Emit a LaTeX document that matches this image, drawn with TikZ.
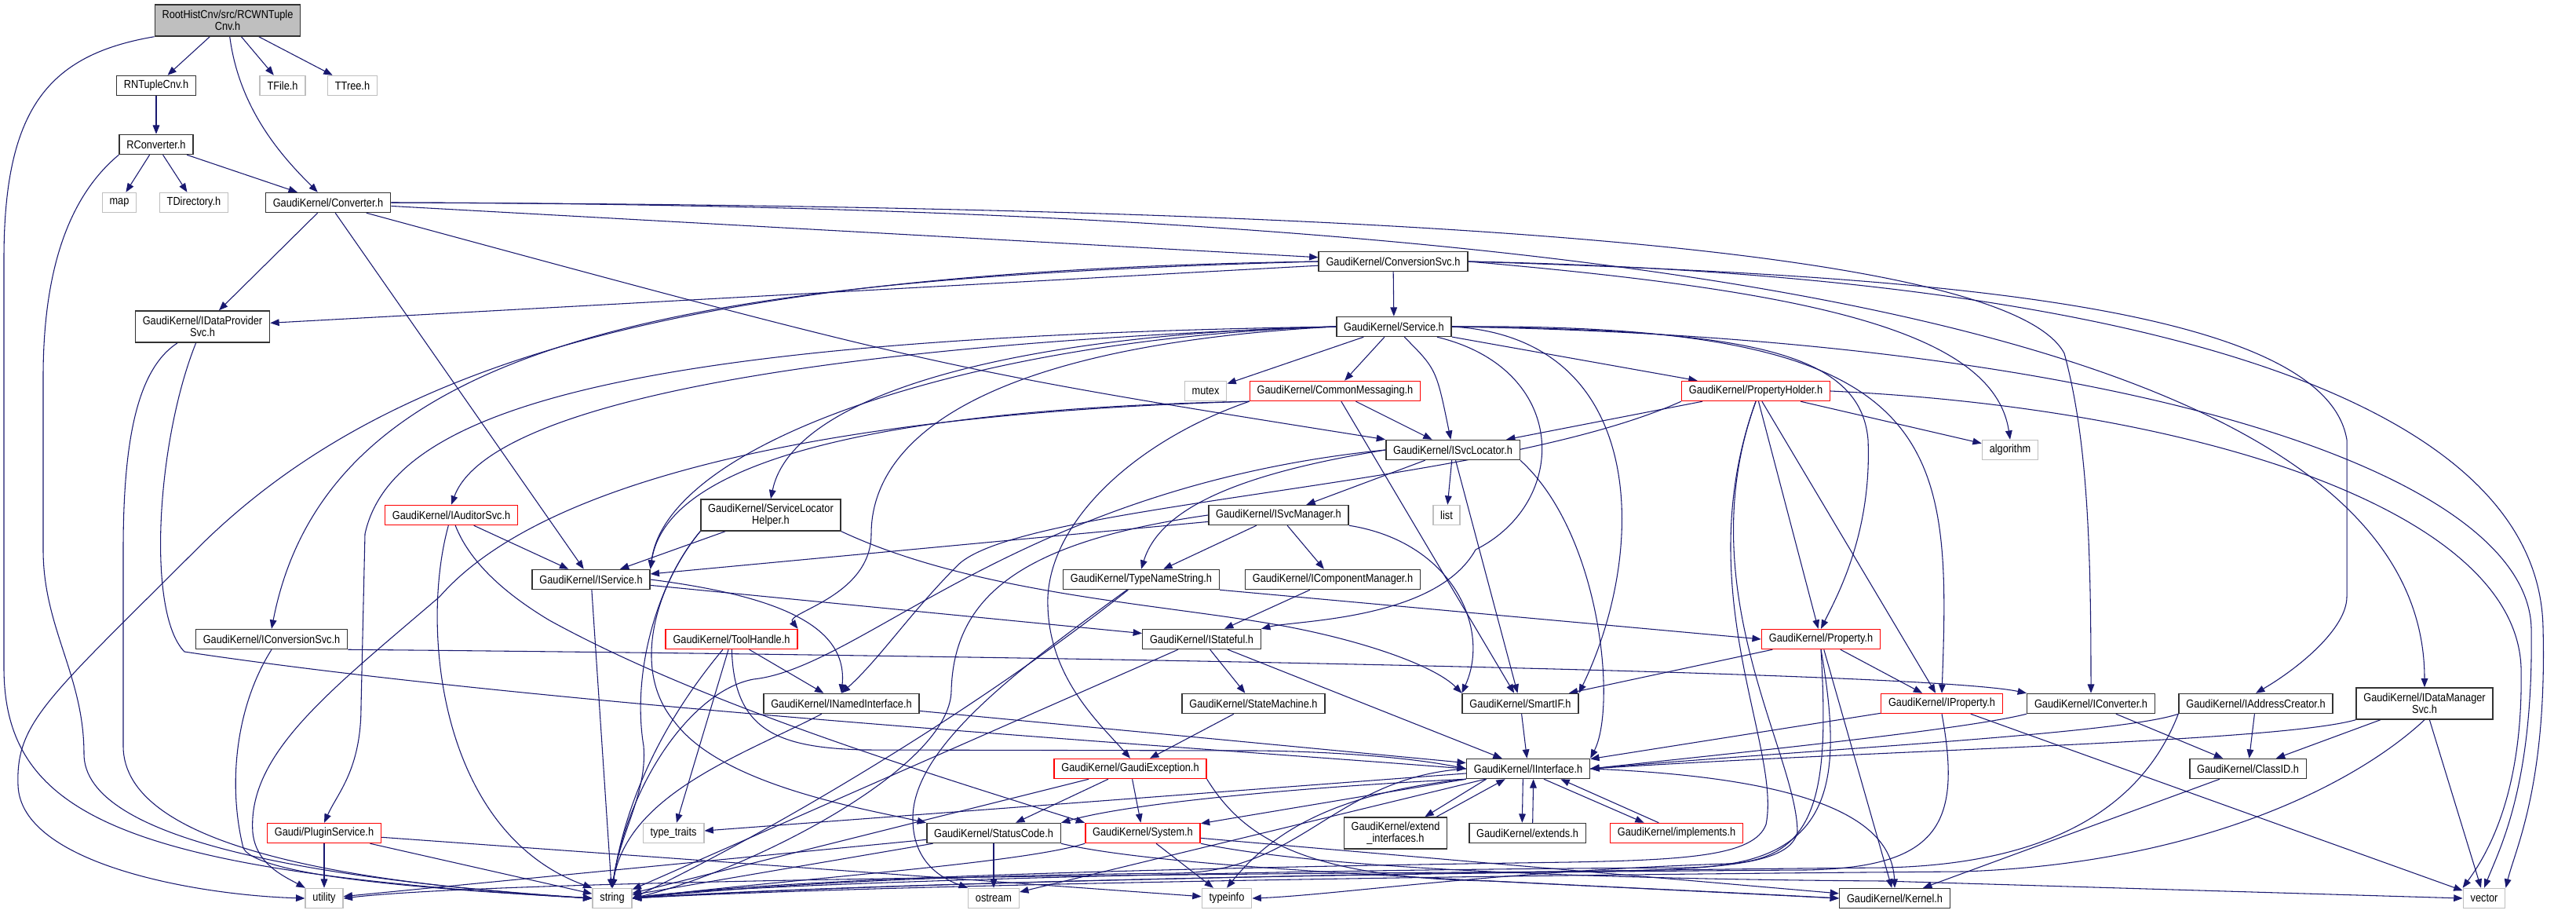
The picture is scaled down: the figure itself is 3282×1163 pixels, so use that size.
\documentclass[tikz,border=0pt]{standalone}
\usepackage{fontspec}
\setmainfont{Liberation Sans}
\newfontfamily\hdrfont{Liberation Sans}[FakeStretch=0.87]
\usetikzlibrary{arrows.meta,backgrounds}

\definecolor{edgeblue}{HTML}{191970}
\definecolor{sysgray}{HTML}{BFBFBF}
\definecolor{hdrred}{HTML}{FF0000}

\tikzset{every picture/.style={line width=0.75pt}}
\tikzset{
  hdr/.style={draw=black!80, line width=1.1pt, fill=white, font=\hdrfont\fontsize{11}{11}\selectfont,
    minimum height=18.75pt, inner xsep=7pt, inner ysep=1pt, align=center},
  syshdr/.style={hdr, draw=sysgray},
  redhdr/.style={hdr, draw=hdrred},
  twoline/.style={minimum height=30pt},
  roothdr/.style={hdr, twoline, fill=sysgray},
  incl/.style={draw=edgeblue, line width=0.8pt, -{Triangle[length=8.5pt,width=6.5pt]}},
}

\begin{document}
\begin{tikzpicture}[x=0.75pt,y=0.75pt,yscale=-1,xscale=1]
\useasboundingbox (0,0) rectangle (3282,1163);

% Header nodes, top to bottom
\node[roothdr] (root) at (290,26) {RootHistCnv/src/RCWNTuple\\Cnv.h};
\node[hdr] (rntuple) at (199,109) {RNTupleCnv.h};
\node[syshdr] (tfile) at (360,109) {TFile.h};
\node[syshdr] (ttree) at (449,109) {TTree.h};
\node[hdr] (rconv) at (199,184) {RConverter.h};
\node[syshdr] (map) at (152,258) {map};
\node[syshdr] (tdir) at (247,258) {TDirectory.h};
\node[hdr] (conv) at (418,258) {GaudiKernel/Converter.h};
\node[hdr] (convsvc) at (1775,333) {GaudiKernel/ConversionSvc.h};
\node[hdr,twoline] (dps) at (258,416) {GaudiKernel/IDataProvider\\Svc.h};
\node[hdr] (service) at (1776,416) {GaudiKernel/Service.h};
\node[syshdr] (mutex) at (1536,498) {mutex};
\node[redhdr] (commsg) at (1701,498) {GaudiKernel/CommonMessaging.h};
\node[redhdr] (propholder) at (2237,498) {GaudiKernel/PropertyHolder.h};
\node[hdr] (isvcloc) at (1851,573) {GaudiKernel/ISvcLocator.h};
\node[syshdr] (algorithm) at (2561,573) {algorithm};
\node[redhdr] (auditor) at (575,656) {GaudiKernel/IAuditorSvc.h};
\node[hdr,twoline] (slhelper) at (982,656) {GaudiKernel/ServiceLocator\\Helper.h};
\node[hdr] (isvcmgr) at (1629,656) {GaudiKernel/ISvcManager.h};
\node[syshdr] (list) at (1843,656) {list};
\node[hdr] (iservice) at (753,738) {GaudiKernel/IService.h};
\node[hdr] (typename) at (1454,738) {GaudiKernel/TypeNameString.h};
\node[hdr] (compmgr) at (1698,738) {GaudiKernel/IComponentManager.h};
\node[hdr] (iconvsvc) at (346,814) {GaudiKernel/IConversionSvc.h};
\node[redhdr] (toolhandle) at (932,814) {GaudiKernel/ToolHandle.h};
\node[hdr] (istateful) at (1531,814) {GaudiKernel/IStateful.h};
\node[redhdr] (property) at (2320,814) {GaudiKernel/Property.h};
\node[hdr] (inamed) at (1072,896) {GaudiKernel/INamedInterface.h};
\node[hdr] (statemach) at (1597,896) {GaudiKernel/StateMachine.h};
\node[hdr] (smartif) at (1937,896) {GaudiKernel/SmartIF.h};
\node[redhdr] (iproperty) at (2474,896) {GaudiKernel/IProperty.h};
\node[hdr] (iconverter) at (2664,896) {GaudiKernel/IConverter.h};
\node[hdr] (iaddr) at (2874,896) {GaudiKernel/IAddressCreator.h};
\node[hdr,twoline] (idms) at (3089,896) {GaudiKernel/IDataManager\\Svc.h};
\node[redhdr] (gexc) at (1440,979) {GaudiKernel/GaudiException.h};
\node[hdr] (iinterface) at (1947,979) {GaudiKernel/IInterface.h};
\node[hdr] (classid) at (2864,979) {GaudiKernel/ClassID.h};
\node[redhdr] (plugin) at (413,1061) {Gaudi/PluginService.h};
\node[syshdr] (typetraits) at (858,1061) {type\_traits};
\node[hdr] (statuscode) at (1266,1061) {GaudiKernel/StatusCode.h};
\node[redhdr] (system) at (1456,1061) {GaudiKernel/System.h};
\node[hdr,twoline] (extendif) at (1778,1061) {GaudiKernel/extend\\\_interfaces.h};
\node[hdr] (extends) at (1946,1061) {GaudiKernel/extends.h};
\node[redhdr] (implements) at (2136,1061) {GaudiKernel/implements.h};
\node[syshdr] (utility) at (413,1144) {utility};
\node[syshdr] (string) at (780,1144) {string};
\node[syshdr] (ostream) at (1266,1144) {ostream};
\node[syshdr] (typeinfo) at (1563,1144) {typeinfo};
\node[hdr] (kernel) at (2414,1144) {GaudiKernel/Kernel.h};
\node[syshdr] (vector) at (3165,1144) {vector};

\begin{pgfonlayer}{background}
\fill[white] (0,0) rectangle (3282,1163);

%Edges: RCWNTupleCnv.h
\draw[incl] (root) -- (rntuple);
\draw[incl] (root) -- (tfile);
\draw[incl] (root) -- (ttree);
\draw[incl] (root) .. controls (305,140) and (360,200) .. (conv);
\draw[incl] (root.south west) .. controls (60,70) and (5,140) .. (5,330) -- (5,850) .. controls (5,1040) and (160,1110) .. (string.west);

%Edges: RNTupleCnv.h, RConverter.h
\draw[incl] (rntuple) -- (rconv);
\draw[incl] (rconv) -- (map);
\draw[incl] (rconv) -- (tdir);
\draw[incl] (rconv) -- (conv);
\draw[incl] (rconv.south west) .. controls (100,240) and (55,320) .. (55,480) -- (55,700) .. controls (55,800) and (107,860) .. (107,960) .. controls (107,1070) and (400,1120) .. (string.west);

%Edges: Converter.h
\draw[incl] (conv) -- (dps);
\draw[incl] (conv) -- (iservice);
\draw[incl] (conv) .. controls (1200,470) .. (isvcloc.north west);
\draw[incl] (conv) -- (convsvc);
\draw[incl] (conv.east) .. controls (1600,262) and (2550,300) .. (2630,450) .. controls (2660,560) and (2664,700) .. (iconverter.north);
\draw[incl] (conv.east) .. controls (2000,262) and (3089,400) .. (idms.north);

%Edges: ConversionSvc.h
\draw[incl] (convsvc) -- (service);
\draw[incl] (convsvc) -- (dps);
\draw[incl] (convsvc.west) .. controls (900,355) and (420,420) .. (iconvsvc.north);
\draw[incl] (convsvc.west) .. controls (900,345) and (500,450) .. (250,700) .. controls (60,890) and (20,920) .. (23,1000) .. controls (26,1100) and (250,1140) .. (utility.west);
\draw[incl] (convsvc.east) .. controls (2300,370) and (2540,420) .. (algorithm.north);
\draw[incl] (convsvc.east) .. controls (2400,350) and (2960,380) .. (2990,560) -- (2990,760) .. controls (2990,800) and (2930,850) .. (iaddr.north);
\draw[incl] (convsvc.east) .. controls (2700,350) and (3235,500) .. (3240,800) .. controls (3245,1000) and (3205,1080) .. (vector.north east);

%Edges: Service.h
\draw[incl] (service) -- (mutex);
\draw[incl] (service) -- (commsg);
\draw[incl] (service) .. controls (1830,470) .. (isvcloc);
\draw[incl] (service) -- (propholder);
\draw[incl] (service.west) .. controls (1300,425) and (1010,500) .. (slhelper.north);
\draw[incl] (service.west) .. controls (1250,430) and (850,560) .. (iservice.north east);
\draw[incl] (service.west) .. controls (1000,440) and (620,520) .. (auditor.north);
\draw[incl] (service.west) .. controls (800,430) and (500,520) .. (465,680) -- (460,900) .. controls (460,980) and (430,1010) .. (plugin.north);
\draw[incl] (service.west) .. controls (1250,440) and (1110,560) .. (1110,680) .. controls (1110,760) and (1000,780) .. (toolhandle.north east);
\draw[incl] (service) .. controls (2000,470) and (2000,640) .. (1880,700) .. controls (1830,790) and (1650,790) .. (istateful.north east);
\draw[incl] (service.east) .. controls (2100,430) and (2100,700) .. (smartif.north east);
\draw[incl] (service.east) .. controls (2200,420) and (2370,440) .. (2380,560) .. controls (2385,680) and (2340,760) .. (property.north);
\draw[incl] (service.east) .. controls (2480,410) and (2486,560) .. (iproperty.north);
\draw[incl] (service.east) .. controls (2700,430) and (3220,600) .. (3225,800) .. controls (3228,1000) and (3185,1080) .. (vector.north);

%Edges: CommonMessaging.h
\draw[incl] (commsg) -- (isvcloc);
\draw[incl] (commsg) -- (smartif);
\draw[incl] (commsg.south west) .. controls (1450,560) and (1340,660) .. (1335,760) .. controls (1332,860) and (1400,920) .. (gexc.north);
\draw[incl] (commsg.south west) .. controls (1150,520) and (850,580) .. (iservice.north east);
\draw[incl] (commsg.south west) .. controls (1100,525) and (700,600) .. (560,760) .. controls (420,880) and (315,960) .. (322,1060) .. controls (326,1100) and (360,1115) .. (utility);

%Edges: PropertyHolder.h
\draw[incl] (propholder) -- (isvcloc);
\draw[incl] (propholder) -- (algorithm);
\draw[incl] (propholder) -- (property);
\draw[incl] (propholder) -- (iproperty);
\draw[incl] (propholder.south west) .. controls (1900,620) and (1300,640) .. (1220,720) .. controls (1160,780) and (1120,840) .. (inamed.north);
\draw[incl] (propholder.east) .. controls (2800,520) and (3205,650) .. (3212,850) .. controls (3215,1000) and (3175,1080) .. (vector.north west);
\draw[incl] (propholder.south) .. controls (2150,750) and (2270,950) .. (2250,1050) .. controls (2235,1090) and (2150,1095) .. (2000,1098) .. controls (1500,1105) and (1000,1118) .. (string.east);
\draw[incl] (propholder.south) .. controls (2150,750) and (2290,960) .. (2290,1060) .. controls (2280,1100) and (2200,1108) .. (2000,1110) .. controls (1200,1115) and (600,1125) .. (utility.east);

%Edges: ISvcLocator.h
\draw[incl] (isvcloc) -- (isvcmgr);
\draw[incl] (isvcloc) -- (list);
\draw[incl] (isvcloc) -- (smartif);
\draw[incl] (isvcloc.south east) .. controls (2040,680) and (2060,900) .. (iinterface.north east);
\draw[incl] (isvcloc.west) .. controls (1600,600) and (1480,640) .. (typename.north);
\draw[incl] (isvcloc.west) .. controls (1300,620) and (1100,850) .. (960,865) .. controls (880,880) and (800,1000) .. (string.north);

%Edges: ISvcManager.h, IComponentManager.h
\draw[incl] (isvcmgr) -- (iservice);
\draw[incl] (isvcmgr) -- (typename);
\draw[incl] (isvcmgr) -- (compmgr);
\draw[incl] (isvcmgr.south east) .. controls (1850,690) and (1900,800) .. (smartif.north west);
\draw[incl] (isvcmgr.west) .. controls (1300,690) and (1215,760) .. (1212,880) .. controls (1210,980) and (950,1110) .. (string.east);
\draw[incl] (compmgr) -- (istateful);

%Edges: IAuditorSvc.h, IService.h
\draw[incl] (auditor) -- (iservice);
\draw[incl] (auditor) .. controls (535,800) and (560,1060) .. (string.north west);
\draw[incl] (auditor) .. controls (600,720) and (650,760) .. (700,790) .. controls (900,900) and (1200,990) .. (system.north west);
\draw[incl] (iservice) -- (istateful);
\draw[incl] (iservice.east) .. controls (1000,760) and (1080,800) .. (inamed.north);
\draw[incl] (iservice) -- (string);

%Edges: ServiceLocatorHelper.h
\draw[incl] (slhelper) -- (iservice);
\draw[incl] (slhelper.south east) .. controls (1250,760) and (1500,770) .. (1650,800) .. controls (1750,820) and (1830,850) .. (smartif.north west);
\draw[incl] (slhelper.south west) .. controls (840,740) and (800,850) .. (860,920) .. controls (920,1000) and (1100,1030) .. (statuscode.north west);
\draw[incl] (slhelper.south west) .. controls (835,745) and (805,860) .. (820,950) .. controls (825,1010) and (790,1060) .. (string.north);

%Edges: ToolHandle.h
\draw[incl] (toolhandle) -- (inamed);
\draw[incl] (toolhandle) -- (typetraits);
\draw[incl] (toolhandle) .. controls (860,900) and (800,1000) .. (string.north);
\draw[incl] (toolhandle) .. controls (935,930) and (990,952) .. (1100,955) -- (1600,956) .. controls (1700,957) and (1800,965) .. (iinterface.west);

%Edges: TypeNameString.h, IStateful.h, StateMachine.h, INamedInterface.h
\draw[incl] (typename.south east) -- (property.west);
\draw[incl] (typename) .. controls (1250,900) and (1000,1050) .. (string.east);
\draw[incl] (typename) .. controls (1300,850) and (1165,950) .. (1163,1040) .. controls (1162,1090) and (1190,1115) .. (ostream.north west);
\draw[incl] (istateful) -- (iinterface);
\draw[incl] (istateful) -- (statemach);
\draw[incl] (istateful) -- (string);
\draw[incl] (statemach) -- (gexc);
\draw[incl] (inamed) -- (iinterface);
\draw[incl] (inamed) .. controls (950,960) and (800,1010) .. (string.north);

%Edges: Property.h, IProperty.h, SmartIF.h
\draw[incl] (property) -- (smartif);
\draw[incl] (property) -- (iproperty);
\draw[incl] (property) -- (kernel);
\draw[incl] (property.south) .. controls (2350,1000) and (2335,1100) .. (2150,1105) .. controls (1500,1108) and (900,1128) .. (string.east);
\draw[incl] (property.south) .. controls (2330,1000) and (2320,1095) .. (2200,1100) .. controls (1900,1110) and (1700,1140) .. (typeinfo.east);
\draw[incl] (iproperty) -- (iinterface);
\draw[incl] (iproperty) -- (vector);
\draw[incl] (iproperty.south) .. controls (2500,1050) and (2470,1105) .. (2300,1108) .. controls (1600,1112) and (1000,1130) .. (string.east);
\draw[incl] (smartif) -- (iinterface);

%Edges: IConverter.h, IAddressCreator.h, IDataManagerSvc.h, ClassID.h
\draw[incl] (iconverter.south west) .. controls (2500,930) and (2200,960) .. (iinterface.east);
\draw[incl] (iconverter) -- (classid);
\draw[incl] (iaddr.south west) .. controls (2700,935) and (2300,955) .. (iinterface.east);
\draw[incl] (iaddr) -- (classid);
\draw[incl] (iaddr.south west) .. controls (2740,1000) and (2650,1100) .. (2400,1105) .. controls (1800,1110) and (1100,1125) .. (string.east);
\draw[incl] (idms.south west) .. controls (2900,945) and (2400,955) .. (iinterface.east);
\draw[incl] (idms) -- (classid);
\draw[incl] (idms) -- (vector);
\draw[incl] (idms.south) .. controls (3000,1000) and (2800,1100) .. (2500,1110) .. controls (1800,1115) and (1100,1128) .. (string.east);
\draw[incl] (classid) -- (kernel);

%Edges: IConversionSvc.h, IDataProviderSvc.h
\draw[incl] (iconvsvc.south east) .. controls (1300,835) and (2450,855) .. (iconverter.north west);
\draw[incl] (iconvsvc.south) .. controls (300,900) and (290,1000) .. (310,1080) .. controls (330,1120) and (600,1135) .. (string.west);
\draw[incl] (dps) .. controls (175,470) and (157,560) .. (157,700) -- (157,950) .. controls (157,1080) and (450,1125) .. (string.west);
\draw[incl] (dps) .. controls (200,560) and (186,780) .. (235,830) .. controls (700,900) and (1500,950) .. (iinterface.west);

%Edges: GaudiException.h
\draw[incl] (gexc) -- (statuscode);
\draw[incl] (gexc) -- (system);
\draw[incl] (gexc) -- (string);
\draw[incl] (gexc.south east) .. controls (1580,1060) and (1650,1118) .. (1900,1122) -- (kernel.west);

%Edges: IInterface.h and its mixins
\draw[incl] ([xshift=-40pt]iinterface.south) -- ([xshift=28pt]extendif.north);
\draw[incl] ([xshift=39pt]extendif.north) -- ([xshift=-22pt]iinterface.south);
\draw[incl] ([xshift=-5pt]iinterface.south) -- ([xshift=-5pt]extends.north);
\draw[incl] ([xshift=5pt]extends.north) -- ([xshift=5pt]iinterface.south);
\draw[incl] ([xshift=15pt]iinterface.south) -- ([xshift=-31pt]implements.north);
\draw[incl] ([xshift=-17pt]implements.north) -- ([xshift=31pt]iinterface.south);
\draw[incl] (iinterface.east) .. controls (2300,990) and (2410,1040) .. (kernel.north);
\draw[incl] (iinterface.south west) .. controls (1700,1000) and (1450,1020) .. (statuscode.north east);
\draw[incl] (iinterface) -- (system);
\draw[incl] (iinterface) -- (typetraits);
\draw[incl] (iinterface.south west) .. controls (1700,1010) and (1620,1060) .. (typeinfo.north);
\draw[incl] (iinterface) -- (ostream);
\draw[incl] (iinterface.west) .. controls (1700,990) and (1660,1110) .. (1500,1112) .. controls (1200,1115) and (1000,1125) .. (string.east);

%Edges: System.h, StatusCode.h, PluginService.h
\draw[incl] (system.south west) .. controls (1300,1100) and (1000,1120) .. (string.east);
\draw[incl] (system) -- (typeinfo);
\draw[incl] (system) -- (kernel);
\draw[incl] (system.south east) .. controls (1700,1110) and (2100,1120) .. (2400,1122) -- (vector.west);
\draw[incl] (statuscode) -- (ostream);
\draw[incl] (statuscode) -- (string);
\draw[incl] (statuscode) -- (utility);
\draw[incl] (statuscode.south east) .. controls (1500,1110) and (2000,1125) .. (kernel.west);
\draw[incl] (plugin) -- (utility);
\draw[incl] (plugin) -- (string);
\draw[incl] (plugin) -- (typeinfo);
\end{pgfonlayer}

\end{tikzpicture}
\end{document}
